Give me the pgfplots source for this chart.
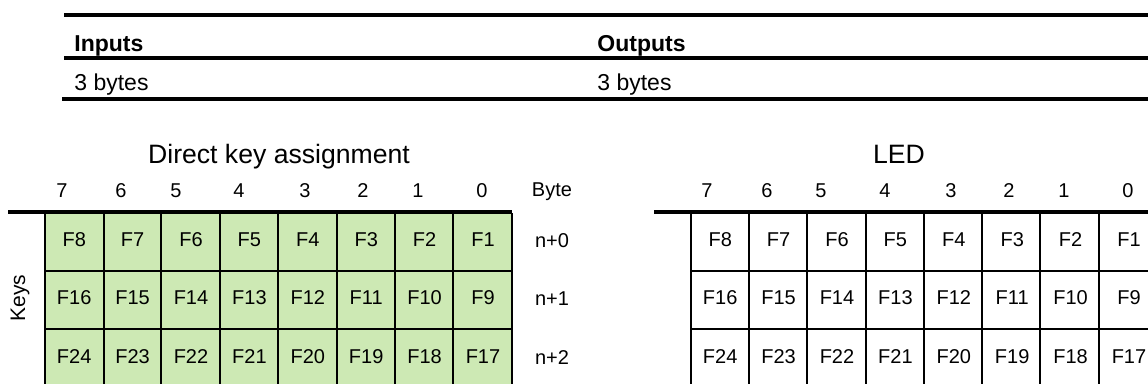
\documentclass[border=0pt]{standalone}
\usepackage{pgfplots}
\pgfplotsset{compat=1.18}
\usepackage{fontspec}
\setmainfont{Liberation Sans}
\definecolor{cellgreen}{RGB}{205,233,180}
\tikzset{
  cell/.style={inner sep=0pt, anchor=base, font=\fontsize{10}{12}\selectfont},
  hd/.style={inner sep=0pt, anchor=base, font=\fontsize{10}{12}\selectfont},
}
\begin{document}
\begin{tikzpicture}
\begin{axis}[
  width=574pt, height=191.5pt, scale only axis,
  xmin=0, xmax=1148, ymin=0, ymax=383, y dir=reverse,
  hide axis, clip=true,
]
\coordinate (BL) at (axis cs:0,383);
\coordinate (TR) at (axis cs:1148,0);
% green key area
\addplot[fill=cellgreen, draw=none] coordinates {(45,212) (512,212) (512,395) (45,395)} -- cycle;
% top rules
\addplot[black, line width=1.6pt] coordinates {(64,15) (1160,15)};
\addplot[black, line width=1.6pt] coordinates {(64,58) (1160,58)};
\addplot[black, line width=1.6pt] coordinates {(62,99) (1160,99)};
% table header rules
\addplot[black, line width=1.6pt] coordinates {(8,212) (512,212)};
\addplot[black, line width=1.6pt] coordinates {(654,212) (1160,212)};
% grid lines
\pgfplotsinvokeforeach{45,104,161,220,278,337,395,453,512,691,749,807,866,924,982,1040,1099}{
  \draw[line width=0.8pt] (axis cs:#1,213) -- (axis cs:#1,395);
}
\pgfplotsinvokeforeach{271,329}{
  \draw[line width=0.8pt] (axis cs:45,#1) -- (axis cs:512,#1);
  \draw[line width=0.8pt] (axis cs:691,#1) -- (axis cs:1160,#1);
}
% top texts
\node[inner sep=0pt, anchor=base west, font=\fontsize{11.5}{13}\selectfont\bfseries] at (axis cs:74,51) {Inputs};
\node[inner sep=0pt, anchor=base west, font=\fontsize{11.5}{13}\selectfont\bfseries] at (axis cs:597,51) {Outputs};
\node[inner sep=0pt, anchor=base west, font=\fontsize{11.5}{13}\selectfont] at (axis cs:74,90) {3 bytes};
\node[inner sep=0pt, anchor=base west, font=\fontsize{11.5}{13}\selectfont] at (axis cs:597,90) {3 bytes};
% titles
\node[inner sep=0pt, anchor=base, font=\fontsize{13.3}{15}\selectfont] at (axis cs:279,163) {Direct key assignment};
\node[inner sep=0pt, anchor=base, font=\fontsize{13.3}{15}\selectfont] at (axis cs:899,163) {LED};
% bit headers
\node[hd] at (axis cs:62,197) {7};
\node[hd] at (axis cs:121,197) {6};
\node[hd] at (axis cs:176,197) {5};
\node[hd] at (axis cs:239,197) {4};
\node[hd] at (axis cs:305,197) {3};
\node[hd] at (axis cs:363,197) {2};
\node[hd] at (axis cs:418,197) {1};
\node[hd] at (axis cs:482,197) {0};
\node[hd] at (axis cs:552,196) {Byte};
\node[hd] at (axis cs:707,197) {7};
\node[hd] at (axis cs:767,197) {6};
\node[hd] at (axis cs:821,197) {5};
\node[hd] at (axis cs:885,197) {4};
\node[hd] at (axis cs:951,197) {3};
\node[hd] at (axis cs:1009,197) {2};
\node[hd] at (axis cs:1064,197) {1};
\node[hd] at (axis cs:1128,197) {0};
% byte labels
\node[hd] at (axis cs:552,247) {n+0};
\node[hd] at (axis cs:552,305.5) {n+1};
\node[hd] at (axis cs:552,364) {n+2};
\node[inner sep=0pt, rotate=90, anchor=center, font=\fontsize{10.5}{12}\selectfont] at (axis cs:20,298) {Keys};
% cells
\pgfplotsinvokeforeach{0,1,2,3,4,5,6,7,8,9,10,11,12,13,14,15,16,17,18,19,20,21,22,23}{
  \pgfmathtruncatemacro\rr{floor(#1/8)}
  \pgfmathtruncatemacro\cc{mod(#1,8)}
  \pgfmathtruncatemacro\num{8*\rr+8-\cc}
  \pgfmathsetmacro\xl{74.2+58.4*\cc}
  \pgfmathsetmacro\xr{720.2+58.4*\cc}
  \pgfmathsetmacro\yb{246+58.5*\rr}
  \edef\tmp{\noexpand\node[cell] at (axis cs:\xl,\yb) {F\num};
            \noexpand\node[cell] at (axis cs:\xr,\yb) {F\num};}
  \tmp
}
\end{axis}
\pgfresetboundingbox
\path[use as bounding box] (BL) rectangle (TR);
\end{tikzpicture}
\end{document}
